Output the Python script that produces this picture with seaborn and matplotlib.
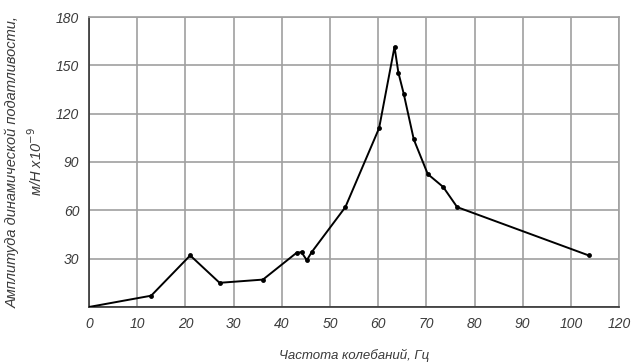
import numpy as np
import pandas as pd
import matplotlib.pyplot as plt
import seaborn as sns

# values (x in axis position units)
freq = [0, 12.9, 21.0, 27.1, 36.1, 43.1, 44.1, 45.2, 46.2, 53.2, 60.2,
        63.4, 64.2, 65.3, 67.4, 70.3, 73.5, 76.4, 103.7]
ampl = [0, 7, 32, 15, 17, 33.7, 34, 29, 34, 62, 111,
        161.5, 145.5, 132.5, 104, 82.5, 74.5, 62, 32]
x_ticks = [0, 10, 20, 30, 40, 50, 60, 70, 80, 90, 100, 110]
x_labels = ['0', '10', '20', '30', '40', '50', '60', '70', '80', '90', '100', '120']
y_ticks = [0, 30, 60, 90, 120, 150, 180]
y_labels = ['', '30', '60', '90', '120', '150', '180']

df = pd.DataFrame({'freq': freq, 'ampl': ampl})

sns.set_style('white')
plt.rcParams['font.family'] = ['Liberation Sans', 'DejaVu Sans']

fig = plt.figure(figsize=(6.33, 3.62), dpi=100)
ax = fig.add_axes([0.1406, 0.152, 0.8374, 0.801])

sns.lineplot(data=df, x='freq', y='ampl', ax=ax, color='black', linewidth=1.4,
             marker='o', markersize=3.5, markeredgewidth=0, zorder=3,
             markevery=list(range(1, len(freq))))

ax.set_xlim(0, 110)
ax.set_ylim(0, 180)
ax.set_xticks(x_ticks)
ax.set_xticklabels(x_labels, fontstyle='italic', fontsize=10, color='#3a3a3a')
ax.set_yticks(y_ticks)
ax.set_yticklabels(y_labels, fontstyle='italic', fontsize=10, color='#3a3a3a')
ax.tick_params(length=0, pad=7)
ax.grid(True, color='#a0a0a0', linewidth=1.2)
ax.set_axisbelow(True)

for s in ['top', 'right']:
    ax.spines[s].set_color('#a0a0a0')
    ax.spines[s].set_linewidth(1.2)
for s in ['left', 'bottom']:
    ax.spines[s].set_color('#333333')
    ax.spines[s].set_linewidth(1.2)

ax.set_xlabel('Частота колебаний, Гц', fontstyle='italic', fontsize=9.5,
              color='#3a3a3a', labelpad=13)
ax.set_ylabel('Амплитуда динамической податливости,\nм/Н х10$^{-9}$',
              fontstyle='italic', fontsize=10.5, color='#3a3a3a', labelpad=8,
              linespacing=1.4)

plt.savefig('out.png', dpi=100)
